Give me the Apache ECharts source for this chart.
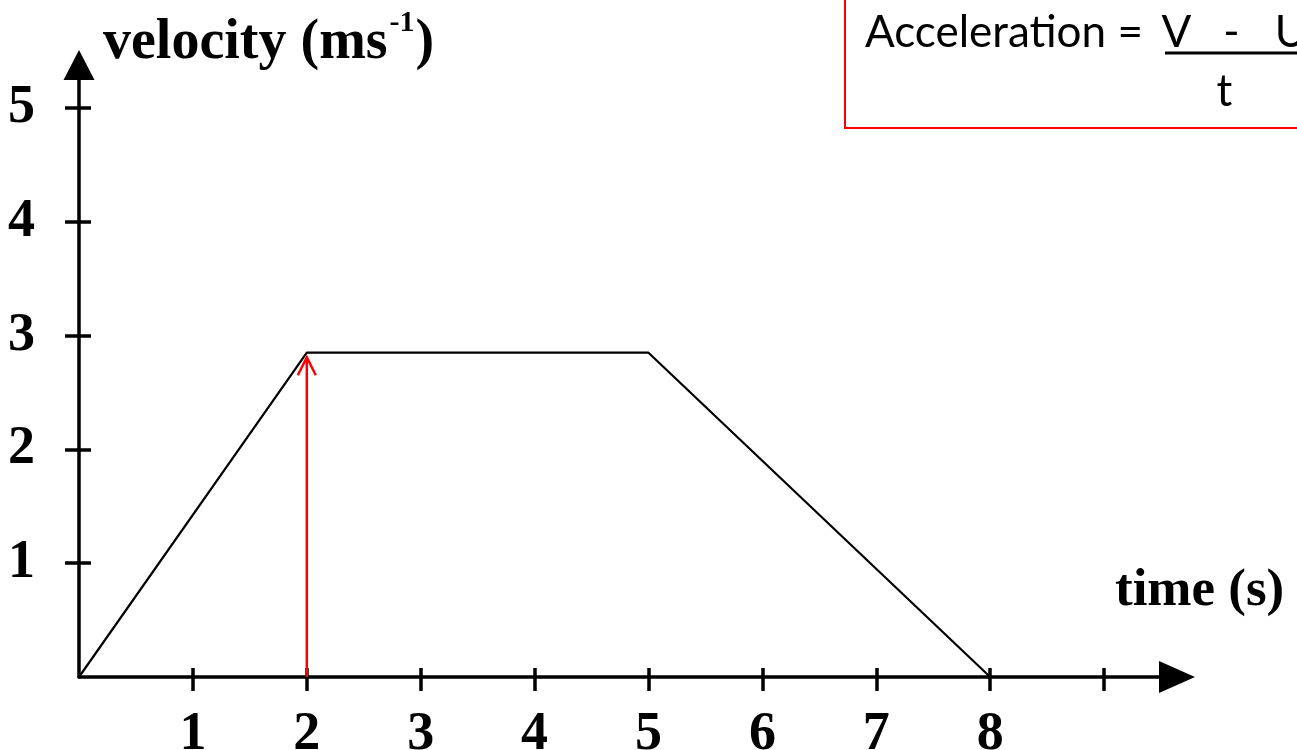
<!DOCTYPE html>
<html>
<head>
<meta charset="utf-8">
<script src="https://cdn.jsdelivr.net/npm/echarts@6/dist/echarts.min.js"></script>
<style>
  html, body { margin: 0; padding: 0; background: #ffffff; }
  #chart { width: 1297px; height: 750px; }
</style>
</head>
<body>
<div id="chart"></div>
<script>
// Velocity–time graph: speed up, cruise, slow down
const time = [0, 2, 5, 8];
const velocity = [0, 2.85, 2.85, 0];

// Red arrow marking the velocity reached at t = 2 s
const arrowTime = 2;
const arrowBase = 0;
const arrowTop = 2.81;

// Axis ticks and labels
const timeTicks = [1, 2, 3, 4, 5, 6, 7, 8, 9];
const timeLabels = [1, 2, 3, 4, 5, 6, 7, 8];
const velocityTicks = [1, 2, 3, 4, 5];
const velocityLabels = [1, 2, 3, 4, 5];

const X_MAX = 9.64;
const Y_MAX = 5.378;

const serif = '"Liberation Serif", "DejaVu Serif", serif';
const sans = 'Lato, "Open Sans", sans-serif';
const tickFont = { fontFamily: serif, fontSize: 54, fontWeight: 'bold', color: '#000' };
const axisStroke = { color: '#000', width: 3.5 };

const chart = echarts.init(document.getElementById('chart'), null, { renderer: 'canvas' });

// formula text pieces share one style
function formulaText(text, x, y, align) {
  return {
    type: 'text', x: x, y: y, z: 11,
    style: { text: text, fontFamily: sans, fontSize: 44, fill: '#000',
             verticalAlign: 'middle', align: align }
  };
}

chart.setOption({
  animation: false,
  backgroundColor: '#ffffff',
  grid: { left: 79, right: 120, top: 65, bottom: 73, containLabel: false, outerBoundsMode: 'none' },
  xAxis: [
    {
      type: 'value', min: 0, max: X_MAX, position: 'bottom',
      axisLine: { show: true, onZero: false, lineStyle: axisStroke,
                  symbol: ['none', 'triangle'], symbolSize: [32, 36] },
      axisTick: { show: true, inside: false, length: 14, lineStyle: axisStroke,
                  customValues: timeTicks },
      axisLabel: { show: true, margin: 31, customValues: timeLabels, ...tickFont },
      splitLine: { show: false }
    },
    {
      type: 'value', min: 0, max: X_MAX, position: 'bottom',
      axisLine: { show: false, onZero: false },
      axisTick: { show: true, inside: true, length: 9, lineStyle: axisStroke,
                  customValues: timeTicks },
      axisLabel: { show: false },
      splitLine: { show: false }
    }
  ],
  yAxis: [
    {
      type: 'value', min: 0, max: Y_MAX, position: 'left',
      axisLine: { show: true, onZero: false, lineStyle: axisStroke,
                  symbol: ['none', 'triangle'], symbolSize: [31, 30] },
      axisTick: { show: true, inside: false, length: 14, lineStyle: axisStroke,
                  customValues: velocityTicks },
      axisLabel: { show: true, margin: 44, customValues: velocityLabels, ...tickFont },
      splitLine: { show: false }
    },
    {
      type: 'value', min: 0, max: Y_MAX, position: 'left',
      axisLine: { show: false, onZero: false },
      axisTick: { show: true, inside: true, length: 12, lineStyle: axisStroke,
                  customValues: velocityTicks },
      axisLabel: { show: false },
      splitLine: { show: false }
    }
  ],
  series: [
    {
      type: 'line',
      xAxisIndex: 0, yAxisIndex: 0,
      data: time.map((t, i) => [t, velocity[i]]),
      showSymbol: false,
      symbol: 'none',
      lineStyle: { color: '#000', width: 2.2 },
      z: 3
    },
    {
      type: 'custom',
      xAxisIndex: 0, yAxisIndex: 0,
      data: [[arrowTime, arrowBase, arrowTop]],
      z: 4,
      renderItem: function (params, api) {
        const p0 = api.coord([api.value(0), api.value(1)]);
        const p1 = api.coord([api.value(0), api.value(2)]);
        const head = 9, len = 18;
        const red = { stroke: '#ff0000', lineWidth: 2.5, fill: null };
        return {
          type: 'group',
          children: [
            { type: 'line', shape: { x1: p0[0], y1: p0[1], x2: p1[0], y2: p1[1] }, style: red },
            { type: 'polyline',
              shape: { points: [[p1[0] - head, p1[1] + len], [p1[0], p1[1]], [p1[0] + head, p1[1] + len]] },
              style: red }
          ]
        };
      }
    }
  ],
  graphic: [
    // axis titles
    {
      type: 'text', left: 103, top: 8,
      style: {
        text: '{v|velocity (ms}{s|-1}{v|)}',
        rich: {
          v: { fontFamily: serif, fontSize: 56, fontWeight: 'bold', color: '#000', lineHeight: 64, verticalAlign: 'bottom' },
          s: { fontFamily: serif, fontSize: 30, fontWeight: 'bold', color: '#000', lineHeight: 64, verticalAlign: 'top', padding: [0, 1, 0, 2] }
        }
      }
    },
    {
      type: 'text', left: 1115, top: 565,
      style: { text: 'time (s)', fontFamily: serif, fontSize: 53, fontWeight: 'bold', fill: '#000' }
    },
    // formula box
    {
      type: 'rect', shape: { x: 845, y: -10, width: 470, height: 138 },
      style: { fill: '#ffffff', stroke: '#ff0000', lineWidth: 2 }, z: 10
    },
    formulaText('Acceleration =', 865, 33, 'left'),
    formulaText('V', 1176.5, 33, 'center'),
    formulaText('-', 1231.5, 33, 'center'),
    formulaText('U', 1291, 33, 'center'),
    {
      type: 'line', shape: { x1: 1165, y1: 53, x2: 1310, y2: 53 }, z: 11,
      style: { stroke: '#000', lineWidth: 3 }
    },
    formulaText('t', 1224.5, 92, 'center')
  ]
});
</script>
</body>
</html>
